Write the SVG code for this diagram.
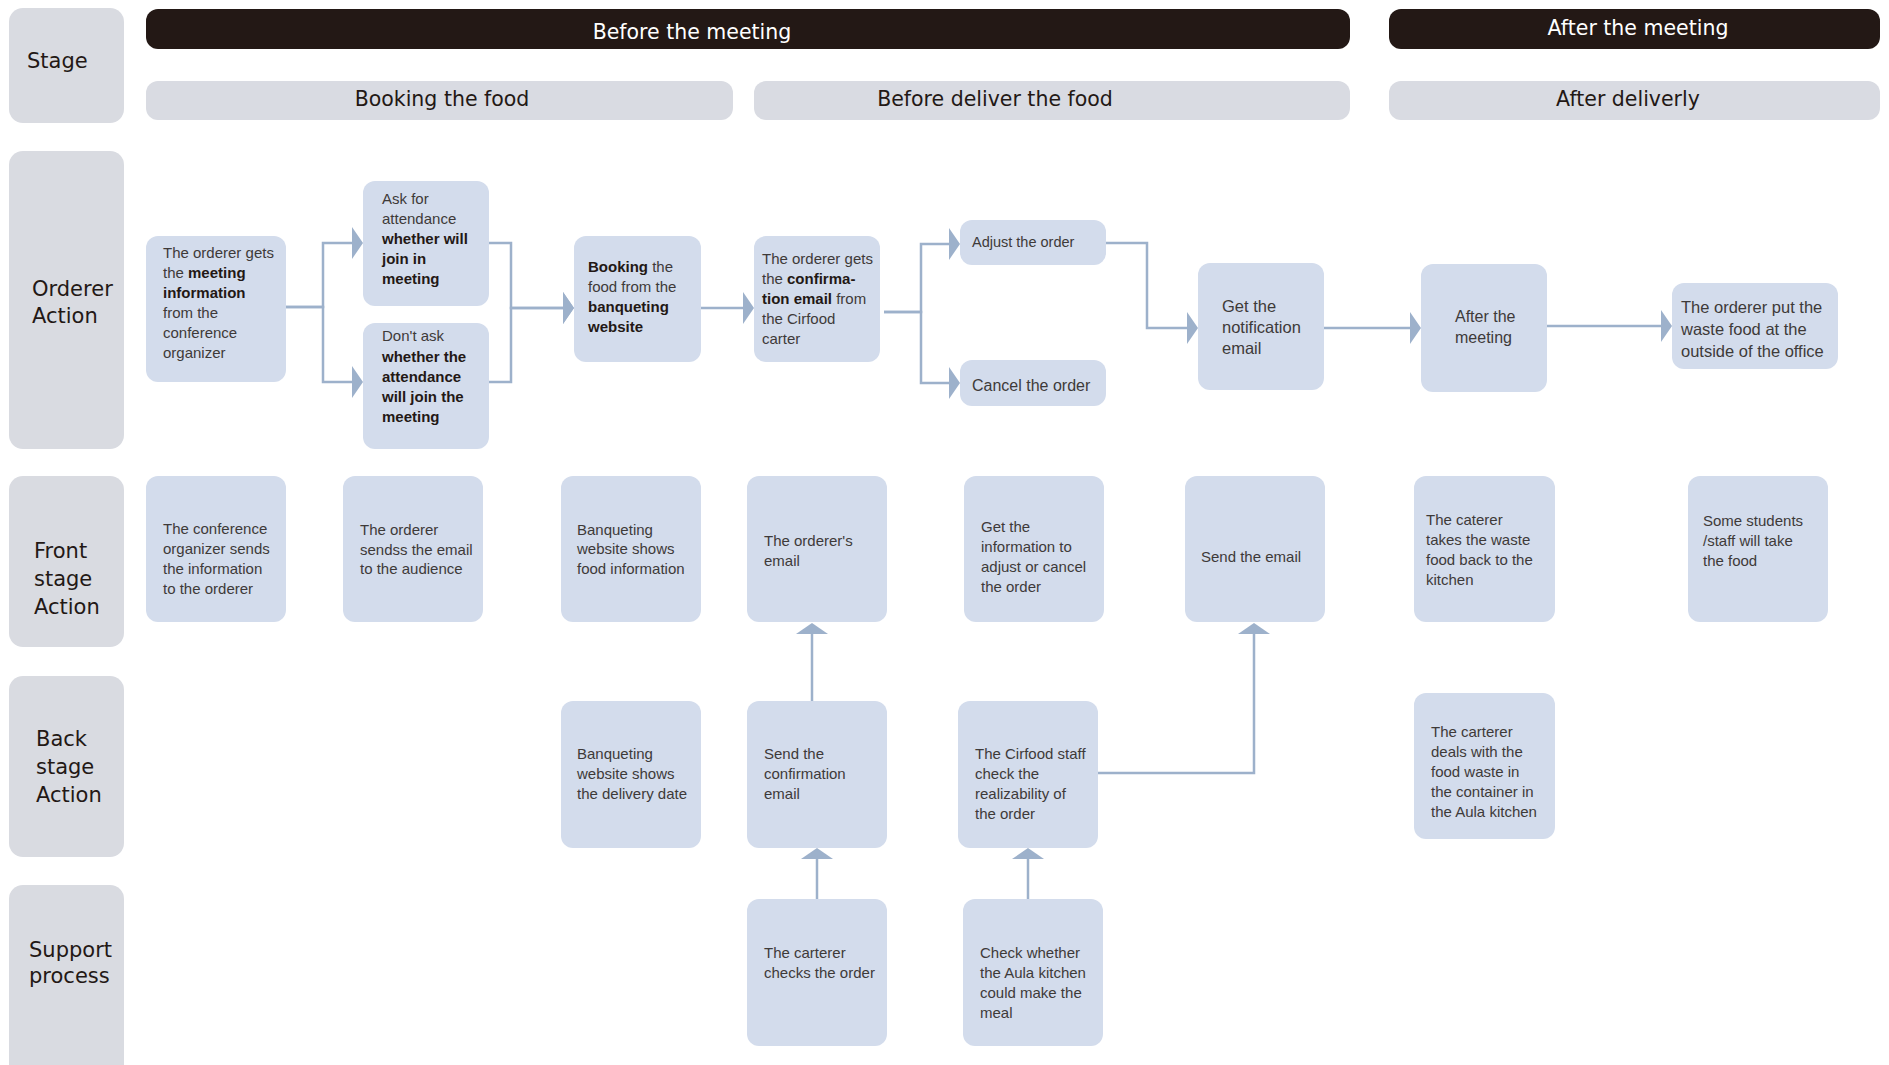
<svg xmlns="http://www.w3.org/2000/svg" width="1889" height="1065" viewBox="0 0 1889 1065">
<style>
.lane{fill:#d9dbe1}
.hdr{fill:#d9dbe2}
.bar{fill:#231815}
.node{fill:#d3dcec}
.lbl{font-family:"DejaVu Sans","Liberation Sans",sans-serif;font-size:21px;fill:#231815}
.ht{font-family:"DejaVu Sans","Liberation Sans",sans-serif;font-size:20.5px;text-anchor:middle;fill:#231815}
.ht.w{fill:#ffffff}
.t{font-family:"Liberation Sans",Arial,sans-serif;font-size:15px;fill:#3e3a39}
.b{font-weight:700;fill:#231815}
.conn{fill:none;stroke:#9db1cb;stroke-width:2.5;marker-end:url(#ah)}
</style>
<defs>
<marker id="ah" markerUnits="userSpaceOnUse" viewBox="0 0 11 32" refX="0" refY="16" markerWidth="11" markerHeight="32" orient="auto">
<path d="M0,0 L11,16 L0,32 Z" fill="#9db1cb"/>
</marker>
</defs>
<rect width="1889" height="1065" fill="#ffffff"/>

<g id="lane-stage"><rect class="lane" x="9" y="8" width="115" height="115" rx="14"/><text class="lbl" x="27" y="68">Stage</text></g>
<g id="lane-orderer"><rect class="lane" x="9" y="151" width="115" height="298" rx="14"/><text class="lbl" x="32" y="296">Orderer</text><text class="lbl" x="32" y="323">Action</text></g>
<g id="lane-front"><rect class="lane" x="9" y="476" width="115" height="171" rx="14"/><text class="lbl" x="34" y="558">Front</text><text class="lbl" x="34" y="586">stage</text><text class="lbl" x="34" y="614">Action</text></g>
<g id="lane-back"><rect class="lane" x="9" y="676" width="115" height="181" rx="14"/><text class="lbl" x="36" y="746">Back</text><text class="lbl" x="36" y="774">stage</text><text class="lbl" x="36" y="802">Action</text></g>
<g id="lane-support"><rect class="lane" x="9" y="885" width="115" height="195" rx="14"/><text class="lbl" x="29" y="957">Support</text><text class="lbl" x="29" y="983">process</text></g>

<g id="bar-before"><rect class="bar" x="146" y="9" width="1204" height="40" rx="12"/><text class="ht w" x="692" y="39">Before the meeting</text></g>
<g id="bar-after"><rect class="bar" x="1389" y="9" width="491" height="40" rx="12"/><text class="ht w" x="1638" y="35">After the meeting</text></g>
<g id="hdr-booking"><rect class="hdr" x="146" y="81" width="587" height="39" rx="12"/><text class="ht" x="442" y="106">Booking the food</text></g>
<g id="hdr-before-deliver"><rect class="hdr" x="754" y="81" width="596" height="39" rx="12"/><text class="ht" x="995" y="106">Before deliver the food</text></g>
<g id="hdr-after-delivery"><rect class="hdr" x="1389" y="81" width="491" height="39" rx="12"/><text class="ht" x="1628" y="106">After deliverly</text></g>

<g id="connectors">
<path class="conn" d="M286,307 H323 V243 H352"/>
<path class="conn" d="M286,307 H323 V382 H352"/>
<path class="conn" d="M489,243 H511 V308 H563"/>
<path class="conn" d="M489,382 H511 V308 H563"/>
<path class="conn" d="M701,308 H743"/>
<path class="conn" d="M884,312 H921 V244 H949"/>
<path class="conn" d="M884,312 H921 V383 H949"/>
<path class="conn" d="M1106,243 H1147 V328 H1187"/>
<path class="conn" d="M1324,328 H1410"/>
<path class="conn" d="M1547,326 H1661"/>
<path class="conn" d="M812,701 V634"/>
<path class="conn" d="M817,899 V859"/>
<path class="conn" d="M1028,899 V859"/>
<path class="conn" d="M1098,773 H1254 V634"/>
</g>

<g id="n1"><rect class="node" x="146" y="236" width="140" height="146" rx="12"/>
<text class="t" x="163" y="258">The orderer gets</text>
<text class="t" x="163" y="278">the <tspan class="b">meeting</tspan></text>
<text class="t b" x="163" y="298">information</text>
<text class="t" x="163" y="318">from the</text>
<text class="t" x="163" y="338">conference</text>
<text class="t" x="163" y="358">organizer</text></g>

<g id="n2"><rect class="node" x="363" y="181" width="126" height="125" rx="12"/>
<text class="t" x="382" y="204">Ask for</text>
<text class="t" x="382" y="224">attendance</text>
<text class="t b" x="382" y="244">whether will</text>
<text class="t b" x="382" y="264">join in</text>
<text class="t b" x="382" y="284">meeting</text></g>

<g id="n3"><rect class="node" x="363" y="323" width="126" height="126" rx="12"/>
<text class="t" x="382" y="341">Don't ask</text>
<text class="t b" x="382" y="362">whether the</text>
<text class="t b" x="382" y="382">attendance</text>
<text class="t b" x="382" y="402">will join the</text>
<text class="t b" x="382" y="422">meeting</text></g>

<g id="n4"><rect class="node" x="574" y="236" width="127" height="126" rx="12"/>
<text class="t" x="588" y="272"><tspan class="b">Booking</tspan> the</text>
<text class="t" x="588" y="292">food from the</text>
<text class="t b" x="588" y="312">banqueting</text>
<text class="t b" x="588" y="332">website</text></g>

<g id="n5"><rect class="node" x="754" y="236" width="126" height="126" rx="12"/>
<text class="t" x="762" y="264">The orderer gets</text>
<text class="t" x="762" y="284">the <tspan class="b">confirma-</tspan></text>
<text class="t" x="762" y="304"><tspan class="b">tion email</tspan> from</text>
<text class="t" x="762" y="324">the Cirfood</text>
<text class="t" x="762" y="344">carter</text></g>

<g id="n6"><rect class="node" x="960" y="220" width="146" height="45" rx="12"/>
<text class="t" x="972" y="247" style="font-size:14.5px">Adjust the order</text></g>

<g id="n7"><rect class="node" x="960" y="360" width="146" height="46" rx="12"/>
<text class="t" x="972" y="391" style="font-size:16px">Cancel the order</text></g>

<g id="n8"><rect class="node" x="1198" y="263" width="126" height="127" rx="12"/>
<text class="t" x="1222" y="312" style="font-size:16.5px">Get the</text>
<text class="t" x="1222" y="333" style="font-size:16.5px">notification</text>
<text class="t" x="1222" y="354" style="font-size:16.5px">email</text></g>

<g id="n9"><rect class="node" x="1421" y="264" width="126" height="128" rx="12"/>
<text class="t" x="1455" y="322" style="font-size:16px">After the</text>
<text class="t" x="1455" y="343" style="font-size:16px">meeting</text></g>

<g id="n10"><rect class="node" x="1672" y="283" width="166" height="86" rx="12"/>
<text class="t" x="1681" y="313" style="font-size:16.5px">The orderer put the</text>
<text class="t" x="1681" y="335" style="font-size:16.5px">waste food at the</text>
<text class="t" x="1681" y="357" style="font-size:16.5px">outside of the office</text></g>

<g id="fs1"><rect class="node" x="146" y="476" width="140" height="146" rx="12"/>
<text class="t" x="163" y="534">The conference</text>
<text class="t" x="163" y="554">organizer sends</text>
<text class="t" x="163" y="574">the information</text>
<text class="t" x="163" y="594">to the orderer</text></g>

<g id="fs2"><rect class="node" x="343" y="476" width="140" height="146" rx="12"/>
<text class="t" x="360" y="535">The orderer</text>
<text class="t" x="360" y="555">sendss the email</text>
<text class="t" x="360" y="574">to the audience</text></g>

<g id="fs3"><rect class="node" x="561" y="476" width="140" height="146" rx="12"/>
<text class="t" x="577" y="535">Banqueting</text>
<text class="t" x="577" y="554">website shows</text>
<text class="t" x="577" y="574">food information</text></g>

<g id="fs4"><rect class="node" x="747" y="476" width="140" height="146" rx="12"/>
<text class="t" x="764" y="546">The orderer's</text>
<text class="t" x="764" y="566">email</text></g>

<g id="fs5"><rect class="node" x="964" y="476" width="140" height="146" rx="12"/>
<text class="t" x="981" y="532">Get the</text>
<text class="t" x="981" y="552">information to</text>
<text class="t" x="981" y="572">adjust or cancel</text>
<text class="t" x="981" y="592">the order</text></g>

<g id="fs6"><rect class="node" x="1185" y="476" width="140" height="146" rx="12"/>
<text class="t" x="1201" y="562">Send the email</text></g>

<g id="fs7"><rect class="node" x="1414" y="476" width="141" height="146" rx="12"/>
<text class="t" x="1426" y="525">The caterer</text>
<text class="t" x="1426" y="545">takes the waste</text>
<text class="t" x="1426" y="565">food back to the</text>
<text class="t" x="1426" y="585">kitchen</text></g>

<g id="fs8"><rect class="node" x="1688" y="476" width="140" height="146" rx="12"/>
<text class="t" x="1703" y="526">Some students</text>
<text class="t" x="1703" y="546">/staff will take</text>
<text class="t" x="1703" y="566">the food</text></g>

<g id="bs1"><rect class="node" x="561" y="701" width="140" height="147" rx="12"/>
<text class="t" x="577" y="759">Banqueting</text>
<text class="t" x="577" y="779">website shows</text>
<text class="t" x="577" y="799">the delivery date</text></g>

<g id="bs2"><rect class="node" x="747" y="701" width="140" height="147" rx="12"/>
<text class="t" x="764" y="759">Send the</text>
<text class="t" x="764" y="779">confirmation</text>
<text class="t" x="764" y="799">email</text></g>

<g id="bs3"><rect class="node" x="958" y="701" width="140" height="147" rx="12"/>
<text class="t" x="975" y="759">The Cirfood staff</text>
<text class="t" x="975" y="779">check the</text>
<text class="t" x="975" y="799">realizability of</text>
<text class="t" x="975" y="819">the order</text></g>

<g id="bs4"><rect class="node" x="1414" y="693" width="141" height="146" rx="12"/>
<text class="t" x="1431" y="737">The carterer</text>
<text class="t" x="1431" y="757">deals with the</text>
<text class="t" x="1431" y="777">food waste in</text>
<text class="t" x="1431" y="797">the container in</text>
<text class="t" x="1431" y="817">the Aula kitchen</text></g>

<g id="sp1"><rect class="node" x="747" y="899" width="140" height="147" rx="12"/>
<text class="t" x="764" y="958">The carterer</text>
<text class="t" x="764" y="978">checks the order</text></g>

<g id="sp2"><rect class="node" x="963" y="899" width="140" height="147" rx="12"/>
<text class="t" x="980" y="958">Check whether</text>
<text class="t" x="980" y="978">the Aula kitchen</text>
<text class="t" x="980" y="998">could make the</text>
<text class="t" x="980" y="1018">meal</text></g>
</svg>
